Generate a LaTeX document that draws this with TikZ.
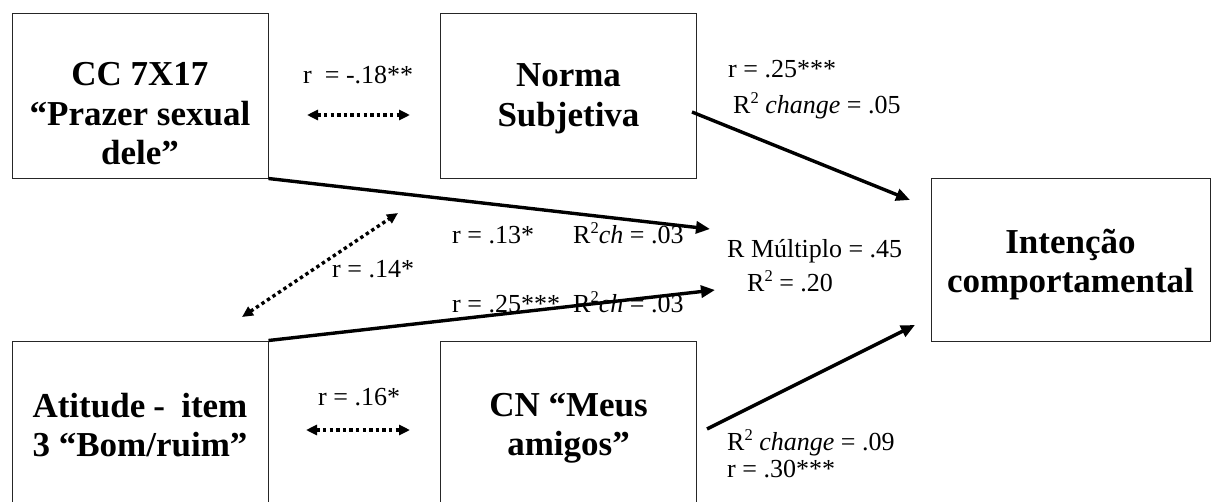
\documentclass[tikz,border=0pt]{standalone}
\usepackage{fontspec}
\setmainfont{Liberation Serif}
\usepackage{calc}
\usetikzlibrary{arrows.meta}

% small raised "2" for R squared
\newcommand\sqr{\raisebox{0.36em}{\fontsize{16.5}{16.5}\selectfont 2}}

\begin{document}
\begin{tikzpicture}[x=1pt,y=-1pt,
  box/.style={draw=black!85, line width=1pt, minimum width=256pt, minimum height=165pt, inner sep=0pt},
  boxtext/.style={font=\fontsize{35}{39.5}\selectfont\bfseries, align=center, inner sep=0pt},
  lbl/.style={font=\fontsize{26}{34}\selectfont, anchor=base west, inner sep=0pt},
  effect/.style={line width=3.4pt, -{Triangle[length=14pt,width=12pt]}},
  corr/.style={line width=3.4pt, dash pattern=on 3.4pt off 3.2pt,
    {Triangle[length=11pt,width=10pt]}-{Triangle[length=11pt,width=10pt]}},
]
\useasboundingbox (0,0) rectangle (1213,501);

% variable boxes
\node[box] (cc) at (140,95.5) {};
\node[box] (norma) at (568.5,95.5) {};
\node[box, minimum width=279pt, minimum height=163pt] (intencao) at (1070.5,259.5) {};
\node[box] (atitude) at (140,423.5) {};
\node[box] (cn) at (568.5,423.5) {};

% their titles
\node[boxtext] (cctext) at (140,114) {CC 7X17\\“Prazer sexual\\dele”};
\node[boxtext] (normatext) at (568.5,99) {Norma\\Subjetiva};
\node[boxtext] (intencaotext) at (1070.5,264.5) {Intenção\\comportamental};
\node[boxtext] (atitudetext) at (140,425)
  {\makebox[\widthof{3 “Bom/ruim”}][s]{Atitude - \ item}\\3 “Bom/ruim”};
\node[boxtext] (cntext) at (568.5,428) {CN “Meus\\amigos”};

% free ends of the connectors
\coordinate (nstart) at (692,112);
\coordinate (nend) at (910,200);
\coordinate (ccend) at (710,229);
\coordinate (attend) at (715,290);
\coordinate (cnstart) at (707,429);
\coordinate (cnend) at (915,325);
\coordinate (r1a) at (307,115);
\coordinate (r1b) at (410,115);
\coordinate (r2a) at (242,317);
\coordinate (r2b) at (398,213);
\coordinate (r3a) at (306,430);
\coordinate (r3b) at (410,430);

% predictors of the intention
\draw[effect] (nstart) -- (nend);
\draw[effect] (cc.south east) -- (ccend);
\draw[effect] (atitude.north east) -- (attend);
\draw[effect] (cnstart) -- (cnend);

% correlations between predictors
\draw[corr] (r1a) -- (r1b);
\draw[corr] (r2a) -- (r2b);
\draw[corr] (r3a) -- (r3b);

% coefficients
\node[lbl] (l1) at (303,83) {r\ \ = -.18**};
\node[lbl] (l2) at (728,77) {r = .25***};
\node[lbl] (l3) at (733,113) {R\sqr{} \textit{change} = .05};
\node[lbl] (l4) at (452,243) {r = .13*};
\node[lbl] (l5) at (573,243) {R\sqr\textit{ch} = .03};
\node[lbl] (l6) at (727,257) {R Múltiplo = .45};
\node[lbl] (l7) at (747,291) {R\sqr{} = .20};
\node[lbl] (l8) at (332,277) {r = .14*};
\node[lbl] (l9) at (452,312) {r = .25***};
\node[lbl] (l10) at (573,312) {R\sqr\textit{ch} = .03};
\node[lbl] (l11) at (318,405) {r = .16*};
\node[lbl] (l12) at (727,450) {R\sqr{} \textit{change} = .09};
\node[lbl] (l13) at (727,477) {r = .30***};
\end{tikzpicture}
\end{document}
